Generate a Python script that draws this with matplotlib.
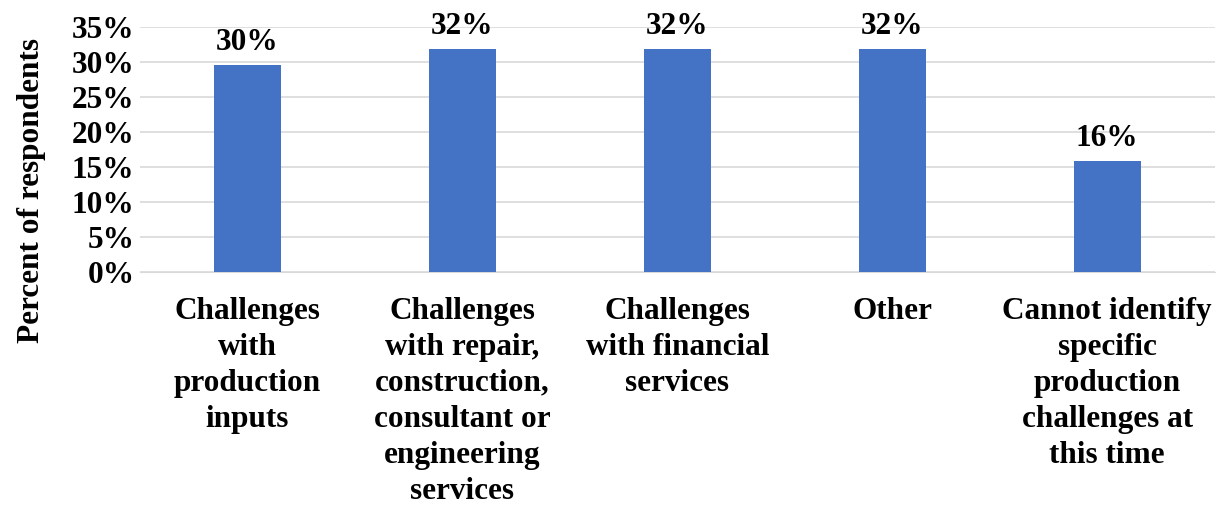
import matplotlib.pyplot as plt
from matplotlib.ticker import PercentFormatter

categories = [
    "Challenges\nwith\nproduction\ninputs",
    "Challenges\nwith repair,\nconstruction,\nconsultant or\nengineering\nservices",
    "Challenges\nwith financial\nservices",
    "Other",
    "Cannot identify\nspecific\nproduction\nchallenges at\nthis time",
]
values = [29.5, 31.8, 31.8, 31.8, 15.9]
labels = ["30%", "32%", "32%", "32%", "16%"]

plt.rcParams["font.family"] = ["Liberation Serif", "DejaVu Serif"]
plt.rcParams["font.weight"] = "bold"
fs = 22.5

fig = plt.figure(figsize=(12.27, 5.08), dpi=100)
ax = fig.add_axes([0.114, 0.465, 0.876, 0.482])

x = range(len(categories))
bars = ax.bar(x, values, width=0.31, color="#4472C4", zorder=3)
for b, lab in zip(bars, labels):
    ax.text(b.get_x() + b.get_width() / 2, b.get_height() + 1.15, lab,
            ha="center", va="bottom", fontsize=fs, fontweight="bold")

ax.set_ylim(0, 35)
ax.set_xlim(-0.5, 4.5)
ax.set_yticks(range(0, 36, 5))
ax.yaxis.set_major_formatter(PercentFormatter(decimals=0))
ax.grid(axis="y", color="#D9D9D9", linewidth=1.2, zorder=0)
for s in ["top", "right", "left"]:
    ax.spines[s].set_visible(False)
ax.spines["bottom"].set_color("#D9D9D9")
ax.tick_params(axis="both", length=0, labelsize=fs)
ax.tick_params(axis="x", pad=18)
ax.tick_params(axis="y", pad=4)
ax.set_xticks(list(x))
ax.set_xticklabels(categories, fontweight="bold", linespacing=1.32, va="top")
for t in ax.get_yticklabels():
    t.set_fontweight("bold")
ax.set_ylabel("Percent of respondents", fontsize=fs, fontweight="bold")
ax.yaxis.set_label_coords(-0.087, 0.33)

fig.savefig("out.png", dpi=100)
